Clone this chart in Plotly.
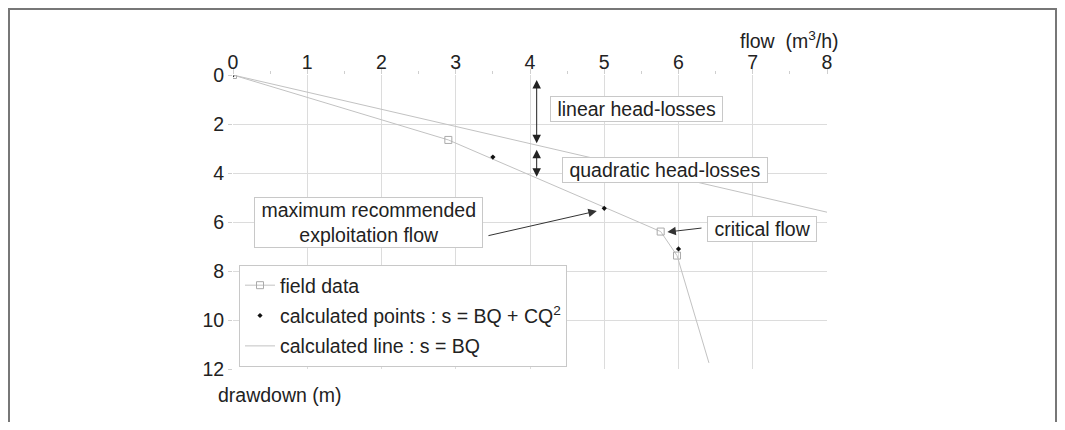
import plotly.graph_objects as go

# ---- data ----
field_q = [0, 2.9, 5.76, 5.98]
field_s = [0, 2.65, 6.39, 7.37]
field_ext_q = [5.98, 6.41]
field_ext_s = [7.37, 11.75]
calc_q = [0, 3.5, 5.0, 6.0]
calc_s = [0, 3.35, 5.44, 7.1]
line_q = [0, 8]
line_s = [0, 5.6]
x_ticks = [0, 1, 2, 3, 4, 5, 6, 7, 8]
y_ticks = [0, 2, 4, 6, 8, 10, 12]

FONT = "Arial, Liberation Sans, sans-serif"
FS = 19.5
TXT = "#222"
GRAY = "#c2c2c2"
NB = "\u00a0"

fig = go.Figure()
fig.add_trace(go.Scatter(x=field_q, y=field_s, mode="lines+markers", name="field data",
                         legendgroup="a",
                         line=dict(color=GRAY, width=1),
                         marker=dict(symbol="square-open", size=7, color="#aaa", line=dict(width=1))))
fig.add_trace(go.Scatter(x=field_ext_q, y=field_ext_s, mode="lines", showlegend=False,
                         legendgroup="a",
                         line=dict(color=GRAY, width=1), hoverinfo="skip"))
fig.add_trace(go.Scatter(x=calc_q, y=calc_s, mode="markers", legendgroup="b",
                         name="calculated points : s = BQ + CQ<sup>2</sup>",
                         marker=dict(symbol="diamond", size=4, color="#111")))
fig.add_trace(go.Scatter(x=line_q, y=line_s, mode="lines", name="calculated line : s = BQ",
                         legendgroup="c",
                         line=dict(color=GRAY, width=1)))

# page is drawn with an 8px body margin; figure = window - 16
W, H = 1049, 414
L, T = 225, 67
R = W - (827 - 8)
B = H - (369 - 8)
pw, ph = W - L - R, H - T - B


def px(xp):  # page pixel -> paper
    return (xp - 8 - L) / pw


def py(yp):
    return (H - B - (yp - 8)) / ph


anns = []
# double arrows
for (x0, y0, y1) in [(4.09, 0.14, 2.79), (4.09, 2.99, 4.15)]:
    anns.append(dict(x=x0, y=y1, ax=x0, ay=y0, xref="x", yref="y", axref="x", ayref="y",
                     text="", showarrow=True, arrowhead=2, arrowside="end+start",
                     arrowsize=1.7, arrowwidth=1, arrowcolor="#222"))
# single arrows
for (tx, ty, hx, hy) in [(3.42, 6.57, 4.90, 5.55), (6.33, 6.24, 5.85, 6.41)]:
    anns.append(dict(x=hx, y=hy, ax=tx, ay=ty, xref="x", yref="y", axref="x", ayref="y",
                     text="", showarrow=True, arrowhead=2, arrowsize=1.7,
                     arrowwidth=1, arrowcolor="#333"))
# boxed labels
for (txt, x, y) in [(NB + "linear head-losses" + NB, 5.43, 1.37),
                    (NB + "quadratic head-losses" + NB, 5.82, 3.88),
                    (NB + "critical flow" + NB, 7.13, 6.27),
                    (NB + "maximum recommended" + NB + "<br>exploitation flow", 1.82, 6.03)]:
    anns.append(dict(x=x, y=y, xref="x", yref="y", text=txt, showarrow=False,
                     font=dict(family=FONT, size=FS, color=TXT),
                     bgcolor="white", bordercolor="#c8c8c8", borderwidth=1, borderpad=1))
# axis titles
anns.append(dict(x=px(841), y=py(40), xref="paper", yref="paper", xanchor="right",
                 yanchor="middle", text="flow  (m<sup>3</sup>/h)", showarrow=False,
                 font=dict(family=FONT, size=FS, color=TXT)))
anns.append(dict(x=px(216), y=py(395), xref="paper", yref="paper", xanchor="left",
                 yanchor="middle", text="drawdown (m)", showarrow=False,
                 font=dict(family=FONT, size=FS, color=TXT)))

shapes = [dict(type="rect", xref="paper", yref="paper",
               x0=px(9), x1=px(1056), y0=py(460), y1=py(9),
               line=dict(color="#777", width=2), layer="below")]

fig.update_layout(
    width=W, height=H, margin=dict(l=L, r=R, t=T, b=B),
    paper_bgcolor="white", plot_bgcolor="white",
    font=dict(family=FONT, size=FS, color=TXT),
    annotations=anns, shapes=shapes,
    legend=dict(x=px(239), y=py(265), xanchor="left", yanchor="top",
                bordercolor="#c8c8c8", borderwidth=1, bgcolor="white",
                traceorder="grouped", tracegroupgap=2,
                font=dict(family=FONT, size=FS, color=TXT)),
    xaxis=dict(range=[0, 8], side="top", tickvals=x_ticks, showgrid=True,
               gridcolor="#dcdcdc", gridwidth=1, zeroline=False, showline=False,
               ticks="outside", ticklen=5, tickcolor="#cfcfcf", ticklabelstandoff=-8,
               minor=dict(dtick=0.5, ticks="outside", ticklen=3, tickcolor="#cfcfcf", showgrid=False),
               tickfont=dict(family=FONT, size=FS, color=TXT)),
    yaxis=dict(range=[12, 0], tickvals=y_ticks, showgrid=True,
               gridcolor="#dcdcdc", gridwidth=1, zeroline=False, showline=False,
               ticks="outside", ticklen=4, tickcolor="#cfcfcf",
               tickfont=dict(family=FONT, size=FS, color=TXT)),
)

fig.write_html("out.html")
